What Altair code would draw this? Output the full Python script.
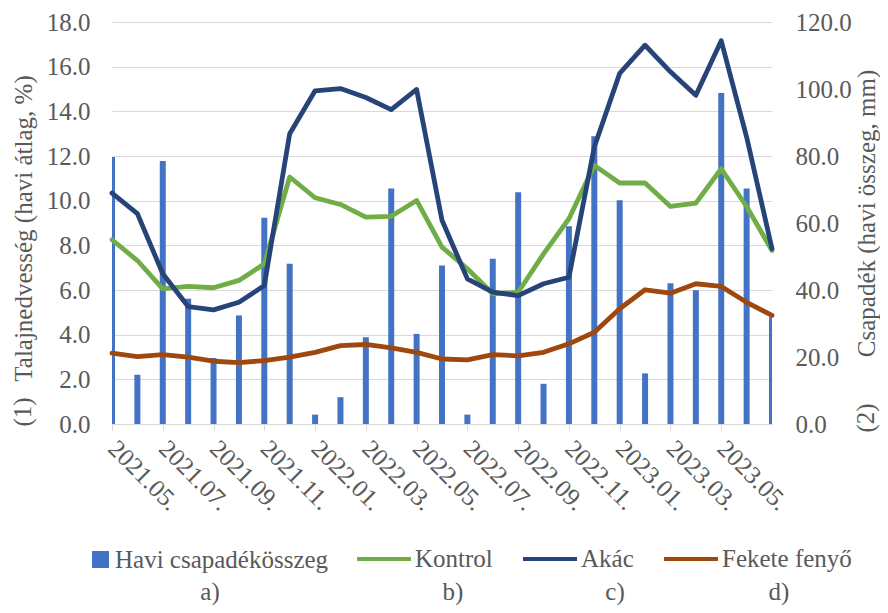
import altair as alt
import pandas as pd

months = [
    "2021.05.", "2021.06.", "2021.07.", "2021.08.", "2021.09.", "2021.10.",
    "2021.11.", "2021.12.", "2022.01.", "2022.02.", "2022.03.", "2022.04.",
    "2022.05.", "2022.06.", "2022.07.", "2022.08.", "2022.09.", "2022.10.",
    "2022.11.", "2022.12.", "2023.01.", "2023.02.", "2023.03.", "2023.04.",
    "2023.05.", "2023.06.", "2023.07.",
]
precip = [79.7, 14.7, 78.5, 37.4, 19.7, 32.4, 61.6, 47.8, 2.8, 8.0, 25.9, 70.3,
          26.9, 47.3, 2.8, 49.3, 69.2, 12.0, 59.0, 85.9, 66.8, 15.1, 42.0, 39.9,
          98.8, 70.3, 31.9]
kontrol = [8.25, 7.32, 6.05, 6.16, 6.10, 6.43, 7.17, 11.06, 10.13, 9.83, 9.26, 9.30,
           10.01, 7.92, 6.95, 5.83, 5.90, 7.62, 9.19, 11.58, 10.79, 10.79, 9.74, 9.89,
           11.43, 9.74, 7.77]
akac = [10.34, 9.42, 6.73, 5.26, 5.11, 5.45, 6.20, 13.00, 14.92, 15.02, 14.62, 14.08,
        14.98, 9.12, 6.50, 5.90, 5.75, 6.28, 6.57, 12.40, 15.70, 16.96, 15.77, 14.72,
        17.16, 12.85, 7.85]
fekete = [3.17, 3.02, 3.11, 2.99, 2.81, 2.75, 2.84, 2.99, 3.21, 3.51, 3.56, 3.41,
          3.21, 2.91, 2.87, 3.11, 3.05, 3.21, 3.59, 4.11, 5.16, 6.01, 5.86, 6.28,
          6.16, 5.45, 4.86]

bar_label = "Havi csapadékösszeg"
series_names = ["Kontrol", "Akác", "Fekete fenyő"]
series_values = [kontrol, akac, fekete]
left_ticks = [0, 2, 4, 6, 8, 10, 12, 14, 16, 18]
right_ticks = [0, 20, 40, 60, 80, 100, 120]
left_title = "Talajnedvesség (havi átlag, %)"
right_title = "Csapadék (havi összeg, mm)"
side_labels = ["(1)", "(2)"]
panel_labels = ["a)", "b)", "c)", "d)"]

FONT = "Liberation Serif"
TXT = "#595959"
FS = 25
GRID = "#d9d9d9"
BLUE = "#4472C4"
COLORS = ["#70AD47", "#264478", "#9E480E"]

W, H = 660, 402

bar_df = pd.DataFrame({"month": months, "precip": precip, "label": bar_label})
rows = []
for name, vals in zip(series_names, series_values):
    for m, v in zip(months, vals):
        rows.append({"month": m, "series": name, "value": v})
line_df = pd.DataFrame(rows)

x_enc = alt.X(
    "month:N", sort=months,
    scale=alt.Scale(type="point", padding=0, domain=months),
    axis=alt.Axis(values=months[0:25:2], labelAngle=45, labelAlign="left",
                  labelBaseline="middle", labelPadding=14, tickSize=6,
                  tickColor=GRID, domainColor=GRID, grid=False, title=None,
                  labelFont=FONT, labelFontSize=FS, labelColor=TXT),
)

bars = alt.Chart(bar_df).mark_bar(size=6, clip=True).encode(
    x=x_enc,
    y=alt.Y("precip:Q", scale=alt.Scale(domain=[0, 120], nice=False),
            axis=alt.Axis(orient="right", values=right_ticks, format=".1f",
                          grid=False, domain=False, ticks=False, labelPadding=23,
                          labelFont=FONT, labelFontSize=FS, labelColor=TXT,
                          title=right_title, titleAngle=270, titleX=94, titleY=191,
                          titleAlign="center", titleBaseline="middle",
                          titleFont=FONT, titleFontSize=FS, titleFontWeight="normal",
                          titleColor=TXT)),
    fill=alt.Fill("label:N", scale=alt.Scale(domain=[bar_label], range=[BLUE]),
                  legend=alt.Legend(orient="none", legendX=-24, legendY=525,
                                    title=None, symbolType="square", symbolSize=289,
                                    symbolStrokeWidth=0, labelOffset=2, padding=0,
                                    labelLimit=400, labelFont=FONT, labelFontSize=FS,
                                    labelColor=TXT)),
)

line_layers = []
for name in series_names:
    line_layers.append(
        alt.Chart(line_df).transform_filter(alt.datum.series == name)
        .mark_line(strokeWidth=4.8, strokeJoin="round", strokeCap="round")
        .encode(
            x=x_enc,
            y=alt.Y("value:Q", scale=alt.Scale(domain=[0, 18], nice=False),
                    axis=alt.Axis(orient="left", values=left_ticks, format=".1f",
                                  grid=True, gridColor=GRID, domain=False, ticks=False,
                                  labelPadding=22, labelFont=FONT, labelFontSize=FS,
                                  labelColor=TXT, title=left_title, titleAngle=270,
                                  titleX=-89, titleY=206, titleAlign="center",
                                  titleBaseline="middle", titleFont=FONT,
                                  titleFontSize=FS, titleFontWeight="normal",
                                  titleColor=TXT)),
            stroke=alt.Stroke("series:N",
                              scale=alt.Scale(domain=series_names, range=COLORS),
                              legend=alt.Legend(orient="none", direction="horizontal",
                                                legendX=243, legendY=508, title=None,
                                                symbolType="stroke", symbolSize=2916,
                                                symbolStrokeWidth=4, columnPadding=22,
                                                labelOffset=2, padding=0, labelLimit=400,
                                                labelFont=FONT, labelFontSize=FS,
                                                labelColor=TXT)),
        )
    )

lines = alt.layer(*line_layers)

text_layers = []
side_pos = [(-89, 390, 270), (94 + W, 396, 270)]
for lab, (px, py, ang) in zip(side_labels, side_pos):
    text_layers.append(
        alt.Chart(alt.Data(values=[{}])).mark_text(
            font=FONT, fontSize=FS, color=TXT, angle=ang, align="center",
            baseline="middle").encode(x=alt.value(px), y=alt.value(py),
                                      text=alt.value(lab))
    )
panel_x = [98, 341, 503, 667]
for lab, px in zip(panel_labels, panel_x):
    text_layers.append(
        alt.Chart(alt.Data(values=[{}])).mark_text(
            font=FONT, fontSize=FS, color=TXT, align="center",
            baseline="middle").encode(x=alt.value(px), y=alt.value(570),
                                      text=alt.value(lab))
    )

chart = alt.layer(bars, lines, *text_layers).resolve_scale(y="independent").properties(
    width=W, height=H,
    autosize=alt.AutoSizeParams(type="none"),
    padding={"left": 104, "top": 14, "right": 108, "bottom": 181},
    background="white",
).configure(font=FONT).configure_view(stroke=None).configure_axis(
    labelFont=FONT, titleFont=FONT
).configure_legend(labelFont=FONT).configure_text(font=FONT)

chart.save("out.html", embed_options={"renderer": "svg", "actions": False})
